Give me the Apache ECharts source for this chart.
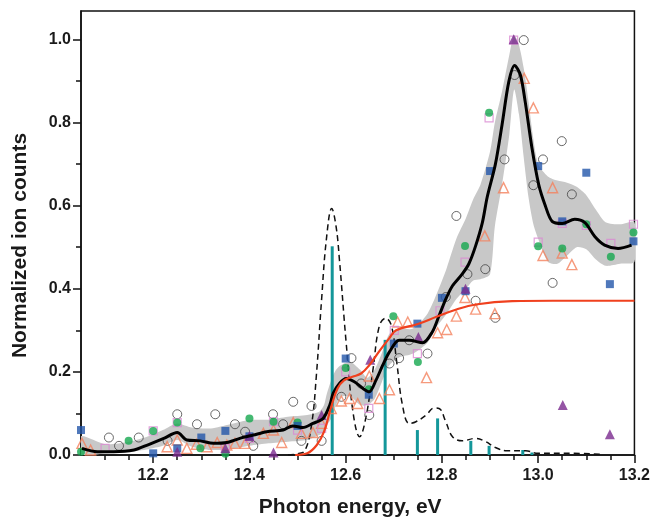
<!DOCTYPE html>
<html><head><meta charset="utf-8">
<script src="https://cdn.jsdelivr.net/npm/echarts@6/dist/echarts.min.js"></script>
<style>html,body{margin:0;padding:0;background:#fff}#c{width:653px;height:523px}</style>
</head><body><div id="c"></div>
<script>
// ---- tick values ----
const xTickValues = [12.2, 12.4, 12.6, 12.8, 13.0, 13.2];
const xMinorTickValues = [12.1, 12.15, 12.25, 12.3, 12.35, 12.45, 12.5, 12.55, 12.65, 12.7, 12.75, 12.85, 12.9, 12.95, 13.05, 13.1, 13.15];
const yTickValues = [0, 0.2, 0.4, 0.6, 0.8, 1.0];
const yMinorTickValues = [0.1, 0.3, 0.5, 0.7, 0.9];

// ---- uncertainty band ----
const bandX  = [12.05,12.10,12.15,12.19,12.22,12.25,12.28,12.32,12.36,12.40,12.44,12.48,12.52,12.545,12.555,12.56,12.57,12.58,12.59,12.61,12.63,12.645,12.66,12.675,12.69,12.71,12.74,12.77,12.79,12.81,12.83,12.85,12.865,12.88,12.90,12.91,12.925,12.94,12.95,12.96,12.97,12.98,12.99,13.00,13.02,13.04,13.06,13.08,13.10,13.12,13.14,13.17,13.20];
const bandLo = [0.0,0.004,0.008,0.014,0.022,0.036,0.02,0.012,0.014,0.022,0.028,0.032,0.036,0.048,0.056,0.07,0.088,0.12,0.14,0.14,0.12,0.12,0.135,0.175,0.215,0.234,0.244,0.27,0.31,0.34,0.375,0.40,0.42,0.423,0.435,0.55,0.651,0.771,0.879,0.82,0.715,0.619,0.555,0.52,0.465,0.46,0.48,0.50,0.495,0.47,0.455,0.46,0.465];
const bandHi = [0.045,0.026,0.032,0.045,0.06,0.076,0.066,0.064,0.074,0.084,0.085,0.092,0.096,0.104,0.12,0.144,0.18,0.205,0.216,0.224,0.205,0.186,0.205,0.245,0.29,0.304,0.304,0.34,0.39,0.45,0.52,0.57,0.615,0.65,0.73,0.80,0.875,0.962,1.01,0.986,0.93,0.85,0.76,0.70,0.67,0.66,0.655,0.645,0.625,0.59,0.56,0.555,0.56];

// ---- mean (black) curve ----
const meanX = [12.052,12.084,12.118,12.160,12.188,12.222,12.250,12.27,12.298,12.325,12.353,12.38,12.408,12.436,12.47,12.49,12.511,12.532,12.553,12.567,12.574,12.587,12.601,12.618,12.636,12.649,12.663,12.677,12.691,12.711,12.732,12.76,12.78,12.794,12.808,12.822,12.842,12.856,12.87,12.884,12.894,12.911,12.925,12.939,12.951,12.963,12.973,12.987,13.001,13.015,13.029,13.05,13.076,13.097,13.118,13.138,13.166,13.194];
const meanY = [0.016,0.008,0.008,0.012,0.024,0.04,0.054,0.036,0.034,0.028,0.03,0.04,0.048,0.056,0.06,0.07,0.066,0.076,0.088,0.12,0.148,0.172,0.184,0.176,0.16,0.152,0.18,0.216,0.248,0.276,0.276,0.27,0.296,0.335,0.375,0.407,0.435,0.46,0.503,0.559,0.62,0.699,0.795,0.898,0.937,0.914,0.85,0.739,0.651,0.599,0.562,0.557,0.567,0.559,0.525,0.505,0.497,0.505];

// ---- step (red) curve ----
const redX = [12.495,12.52,12.54,12.555,12.569,12.583,12.597,12.614,12.632,12.649,12.67,12.69,12.705,12.75,12.79,12.83,12.87,12.946,13.03,13.2];
const redY = [0,0.004,0.024,0.056,0.112,0.16,0.18,0.188,0.196,0.216,0.25,0.28,0.30,0.315,0.333,0.35,0.362,0.37,0.371,0.371];

// ---- simulated spectrum (dashed) ----
const dashX = [12.48,12.50,12.515,12.529,12.539,12.55,12.56,12.571,12.58,12.587,12.601,12.615,12.629,12.643,12.657,12.67,12.683,12.695,12.706,12.718,12.732,12.746,12.767,12.784,12.794,12.808,12.822,12.842,12.87,12.891,12.911,12.935,12.974,13.0,13.07,13.128];
const dashY = [0,0.003,0.01,0.072,0.19,0.375,0.52,0.593,0.55,0.47,0.27,0.105,0.044,0.096,0.208,0.311,0.329,0.311,0.224,0.12,0.076,0.08,0.096,0.113,0.112,0.08,0.044,0.034,0.04,0.032,0.018,0.01,0.01,0.004,0.004,0.002];

// ---- stick spectrum ----
const stickX = [12.572,12.682,12.749,12.791,12.86,12.898,12.968,12.987];
const stickY = [0.502,0.277,0.06,0.088,0.034,0.022,0.012,0.006];

// ---- measured points ----
const openCircleX = [12.108,12.129,12.17,12.23,12.25,12.291,12.329,12.37,12.391,12.408,12.449,12.47,12.491,12.508,12.529,12.55,12.591,12.612,12.632,12.649,12.691,12.711,12.732,12.77,12.808,12.83,12.853,12.87,12.89,12.911,12.93,12.951,12.97,12.99,13.01,13.03,13.049,13.07];
const openCircleY = [0.042,0.022,0.042,0.034,0.098,0.074,0.098,0.074,0.056,0.022,0.098,0.074,0.128,0.034,0.118,0.034,0.14,0.233,0.172,0.096,0.22,0.233,0.276,0.244,0.38,0.575,0.435,0.371,0.447,0.33,0.711,0.914,0.998,0.649,0.711,0.414,0.755,0.627];

const greenX = [12.05,12.149,12.2,12.25,12.298,12.35,12.40,12.45,12.50,12.60,12.648,12.699,12.75,12.848,12.898,13.0,13.05,13.1,13.151,13.198];
const greenY = [0.008,0.034,0.058,0.078,0.016,0.003,0.088,0.08,0.078,0.209,0.158,0.334,0.224,0.503,0.823,0.502,0.497,0.555,0.477,0.535];

const blueX = [12.05,12.20,12.25,12.30,12.35,12.40,12.50,12.60,12.648,12.70,12.749,12.80,12.849,12.90,13.0,13.05,13.1,13.149,13.198];
const blueY = [0.06,0.004,0.016,0.042,0.058,0.045,0.07,0.232,0.145,0.268,0.316,0.378,0.394,0.683,0.695,0.562,0.679,0.411,0.514];

const pinkX = [12.10,12.20,12.25,12.35,12.40,12.45,12.50,12.55,12.60,12.648,12.701,12.749,12.796,12.848,12.898,12.949,13.0,13.05,13.1,13.151,13.198];
const pinkY = [0.016,0.058,0.078,0.016,0.04,0.08,0.06,0.064,0.20,0.112,0.30,0.244,0.347,0.464,0.811,0.998,0.512,0.557,0.552,0.509,0.555];

const purpleX = [12.25,12.35,12.40,12.45,12.55,12.651,12.751,12.849,12.949,13.051,13.149];
const purpleY = [0.008,0.016,0.046,0.006,0.096,0.229,0.284,0.40,1.0,0.12,0.05];

const orangeX = [12.052,12.07,12.229,12.25,12.27,12.29,12.312,12.333,12.353,12.37,12.391,12.429,12.45,12.467,12.491,12.508,12.532,12.55,12.57,12.591,12.608,12.625,12.649,12.67,12.691,12.708,12.729,12.768,12.791,12.81,12.83,12.848,12.87,12.889,12.91,12.928,12.971,12.99,13.01,13.03,13.05,13.07];
const orangeY = [0.028,0.012,0.02,0.036,0.016,0.026,0.02,0.03,0.024,0.028,0.028,0.052,0.06,0.03,0.078,0.052,0.054,0.076,0.112,0.13,0.136,0.124,0.19,0.136,0.157,0.32,0.32,0.186,0.294,0.302,0.334,0.379,0.351,0.527,0.34,0.643,0.906,0.835,0.48,0.643,0.486,0.458];

const pairs = (xs, ys) => xs.map((x, i) => [x, ys[i]]);
const FF = '"Liberation Sans", Arial, sans-serif';

const chart = echarts.init(document.getElementById('c'), null, {renderer: 'canvas'});

const tickLine = {color: '#111', width: 1.5};
const labelStyle = {fontSize: 16, fontWeight: 'bold', color: '#1a1a1a', fontFamily: FF};

chart.setOption({
  animation: false,
  backgroundColor: '#fff',
  grid: {left: 81, right: 16, top: 11, bottom: 66, show: true, borderColor: '#111', borderWidth: 1.5, backgroundColor: 'transparent'},
  xAxis: [
    {type: 'value', min: 12.05, max: 13.2, position: 'bottom',
     axisLine: {show: true, onZero: false, lineStyle: tickLine},
     axisTick: {show: true, length: 8, customValues: xTickValues, lineStyle: tickLine},
     axisLabel: Object.assign({customValues: xTickValues, margin: 13, formatter: v => v.toFixed(1)}, labelStyle),
     splitLine: {show: false},
     name: 'Photon energy, eV', nameLocation: 'middle', nameGap: 42,
     nameTextStyle: {fontSize: 21, fontWeight: 'bold', color: '#1a1a1a', fontFamily: FF, padding: [0, 15, 0, 0]}},
    {type: 'value', min: 12.05, max: 13.2, position: 'bottom',
     axisLine: {show: false},
     axisTick: {show: true, length: 5, customValues: xMinorTickValues, lineStyle: tickLine},
     axisLabel: {show: false}, splitLine: {show: false}}
  ],
  yAxis: [
    {type: 'value', min: 0, max: 1.068, position: 'left',
     axisLine: {show: true, onZero: false, lineStyle: tickLine},
     axisTick: {show: true, length: 8, customValues: yTickValues, lineStyle: tickLine},
     axisLabel: Object.assign({customValues: yTickValues, margin: 10, formatter: v => v.toFixed(1)}, labelStyle),
     splitLine: {show: false},
     name: 'Normalized ion counts', nameLocation: 'middle', nameGap: 50,
     nameTextStyle: {fontSize: 21, fontWeight: 'bold', color: '#1a1a1a', fontFamily: FF, padding: [0, 25, 0, 0]}},
    {type: 'value', min: 0, max: 1.068, position: 'left',
     axisLine: {show: false},
     axisTick: {show: true, length: 5, customValues: yMinorTickValues, lineStyle: tickLine},
     axisLabel: {show: false}, splitLine: {show: false}}
  ],
  series: [
    {type: 'custom', name: 'band', coordinateSystem: 'cartesian2d', clip: true, z: 1, silent: true,
     data: bandX.map((x, i) => [x, bandLo[i], bandHi[i]]),
     encode: {x: 0, y: [1, 2]},
     renderItem: function (params, api) {
       if (params.dataIndex !== 0) return null;
       const upper = bandX.map((x, i) => api.coord([x, bandHi[i]]));
       const lower = bandX.map((x, i) => api.coord([x, bandLo[i]])).reverse();
       return {type: 'polygon', shape: {points: upper.concat(lower), smooth: 0.25},
               style: {fill: '#c8c8c8', stroke: null}};
     }},
    {type: 'bar', name: 'sticks', data: pairs(stickX, stickY), barWidth: 3, z: 2,
     itemStyle: {color: '#14979a'}},
    {type: 'line', name: 'simulated', data: pairs(dashX, dashY), smooth: 0.4, showSymbol: false, symbol: 'none', z: 3,
     lineStyle: {color: '#111', width: 1.5, type: [6, 4]}},
    {type: 'scatter', name: 'open circles', data: pairs(openCircleX, openCircleY), symbol: 'circle', symbolSize: 9, z: 4,
     itemStyle: {color: 'rgba(0,0,0,0)', borderColor: '#444', borderWidth: 1}},
    {type: 'scatter', name: 'orange', data: pairs(orangeX, orangeY), symbol: 'triangle', symbolSize: 10, z: 4,
     itemStyle: {color: 'rgba(0,0,0,0)', borderColor: '#f4815c', borderWidth: 1.4}},
    {type: 'scatter', name: 'pink', data: pairs(pinkX, pinkY), symbol: 'rect', symbolSize: 8, z: 4,
     itemStyle: {color: 'rgba(0,0,0,0)', borderColor: '#d98ad2', borderWidth: 1.2}},
    {type: 'scatter', name: 'green', data: pairs(greenX, greenY), symbol: 'circle', symbolSize: 8, z: 4,
     itemStyle: {color: '#15a84f'}},
    {type: 'scatter', name: 'blue', data: pairs(blueX, blueY), symbol: 'rect', symbolSize: 8, z: 4,
     itemStyle: {color: '#2356aa'}},
    {type: 'scatter', name: 'purple', data: pairs(purpleX, purpleY), symbol: 'triangle', symbolSize: 10, z: 4,
     itemStyle: {color: '#7b2b8e'}},
    {type: 'line', name: 'mean', data: pairs(meanX, meanY), smooth: 0.3, showSymbol: false, symbol: 'none', z: 5,
     lineStyle: {color: '#000', width: 3}},
    {type: 'line', name: 'step', data: pairs(redX, redY), smooth: 0.4, showSymbol: false, symbol: 'none', z: 6,
     lineStyle: {color: '#f0401e', width: 2.2}}
  ]
});
</script></body></html>
